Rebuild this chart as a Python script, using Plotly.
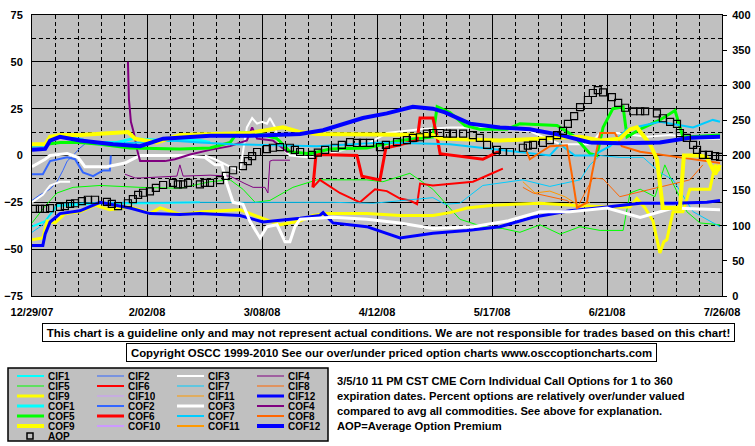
import pandas as pd
import plotly.graph_objects as go

BASE = pd.Timestamp("2007-12-29")

# ---------------- axis ticks ----------------
x_ticks = ["2007-12-29", "2008-02-02", "2008-03-08", "2008-04-12", "2008-05-17", "2008-06-21", "2008-07-26"]
x_ticklabels = ["12/29/07", "2/02/08", "3/08/08", "4/12/08", "5/17/08", "6/21/08", "7/26/08"]
y_left_ticks = [-75, -50, -25, 0, 25, 50, 75]
y_right_ticks = [0, 50, 100, 150, 200, 250, 300, 350, 400]

# ---------------- data (days after 12/29/07, percent over/under valued) ----------------
cif1_d = [0, 4, 7.6, 20.7, 35.9, 51.1]
cif1_v = [-38, -35, -27, -25.5, -25.5, -25]

cif2_d = [0, 2.4, 5.5, 7.6, 9.4, 10.7, 12.5, 14.6, 16.7, 18.3]
cif2_v = [-24, -21, -18, -14, -8, -3, 0, 4, 7, 8]

cif3_d = [0, 3.3, 5.5, 8.5, 11.6, None,
          52.6, 55.7, 60.3, 63.3, 65.4, 67, 68.5, 70, 71.5, 72.4, 74, 75.5, 78.5, 84.6, 90.7,
          96.8, 102.9, 108, 118.1, 127.2, 136.3, 145.5, 151.5, 160.7, 169.8, 172.9, 178, 187.2,
          194.2, 203.3, 209.4]
cif3_v = [-25, -21, -16, -14, -14, None,
          0, -2, -6, -8, 15, 20, 17, 18, 17, 20, 15, 5, 0, -1, 1,
          4, 7, 12, 14, 15, 15, 14, 13, 6, 6, 12, 12, 10,
          11, 9, 9]

cif4_d = [28.3, 31.4, 32.9, 39.9, 44.1, 45, 46, 54.2, 60.3, 64.8, 67.3, 70.9, 71.8, 72.4, 73.3, 78.5]
cif4_v = [-10, -12, -12, -11.5, -11, -5, -11, -10.5, -11, -15, -17, -17, -20, -3, -2.5, -2.5]

cif5_d = [0, 4, 7.6, 12.5, 20.7, 32.9, 45, 54.2, 60.3, 64.2, 67.9, 72.4, 79.4, 86.7, 101.9, 106.8,
          115, 122, 130.2, 137.2, 143.3, 148.5, 154.6, 160.7, 166.8, 172.9, 179.9, 182, 185.1,
          189.6, 192.6, 195.1, 199.3, 203.3, 209.4]
cif5_v = [-36, -27, -20, -17, -16, -17, -17.5, -14, -13, -18, -25, -24, -17, -13, -13, -14,
          -9.5, -18, -34, -38, -39, -41, -37, -42, -38, -40, -40, -20, -18,
          -22, -5, -15, -30, -36, -37]

cif6_d = [85.5, 87.6, 93.7, 99.8, 104.4, 108, 112, 115, 117.2, 118.1, 122, 128.1, 134.2, 139.4, 143.3]
cif6_v = [-17, -13, -20, -25, -18, -19, -23, -24, -26, -15, -16, -15, -14, -10, -7]

cif7_d = [0, 3.3, 7.6, 19.8, 54.2, 91.6, 103.8, 122, 125.7, 130.2, 137.2, 149.4, 157.6, 166.8,
          169.8, 172.9, 178.9, 186, 191.1, 195.1, 201.2, 209.4]
cif7_v = [-41, -37, -26, -25, -25, -25, -25.5, -22.5, -26, -25.5, -16, -13, -16.5, -13,
          -5, 0, -1, -1, -9, -13, -30, -38]

cif8_d = [149.4, 152.5, 162.8, 165.9, 170.7, 173.8, 178.9, 191.1, 195.1, 200.2, 204.2]
cif8_v = [-17, -20, -24, -28, -12, -12.5, -22, -17, -15, -13, -5]

cif9_d = [0, 3.3, 4.6, 7, 10, 14.6, 19.2, 23.7, 29.8, 32.9, 35.9, 39, 45, 52, 63.3, 69.4, 75.5,
          81.6, 85.5, 89.8, 101.9, 112, 122, 127.2, 132.4, 140.3, 154.6, 164.6, 175, 182, 184.1,
          186.6, 189, 191.1, 192.3, 193.2, 195.1, 198.1, 200.2, 206.3, 207.9, 209.4]
cif9_v = [-45, -44, -35, -36, -31, -30, -26.5, -29, -27.5, -29, -31, -28, -31.5, -30, -29, -33, -37,
          -35, -32, -31, -31, -32, -32, -30.5, -28, -26.5, -25.5, -26.5, -27.5, -27.5, -23,
          -28, -35, -52, -46, -45, -30, -30, -18, -18, -5, -8]

cif10_d = []
cif10_v = []

cif11_d = [149.4, 153.1, 157.6, 162.2, 166.8, 169.8]
cif11_v = [-14, -20, -19, -22, -27, -25]

cif12_d = [0, 3.3, 4, 5.5, 8.5, 14.6, 20.7, 29.8, 35.9, 45, 51.1, 63.3, 70.3, 81.6, 87.6, 88.6,
           91.6, 101.9, 112, 122, 132.4, 142.4, 152.5, 163.7, 175, 185.1, 195.1, 205.4, 209.4]
cif12_v = [-48, -48, -42, -35.5, -31, -29.5, -25, -28, -31, -31.5, -31, -32, -35.5, -33.5, -32, -30.5,
           -36, -38, -44, -41.5, -40, -38, -33, -29.5, -27.5, -25.5, -25.5, -25, -24]

cof1_d = [0, 4, 5.5, 9.4, 15.5, 25.9, 30.7, 39.9, 51.1, 54.2]
cof1_v = [5, 6, 10, 11, 7, 7, 9, 8, 8, 7]

cof2_d = [0, 3.3, 5.5, 10.7, 13.1, 15.5, 18.6, 21.6, 23.7, 24]
cof2_v = [-10, -10, -3, -1, -2, -9, -11, -8, -8, 0]

cof3_d = [0, 4, 5.5, 10.7, 14, 16.1, 22.8, 28.3, 32.9, 45, 52.6, 55.7, 57.8, 59.3, 61.2, 64.2,
          66.3, 69.4, 71.5, 74.6, 77, 78.5, 80, 81.6, 91.6, 101.9, 112, 122, 134.2, 144.6,
          154.6, 163.7, 175, 185.1, 195.1, 209.4]
cof3_v = [-6, -2, 0, 1, -1, -6, -6, -4, 0, 0, -1, -5, -5, -15, -25, -26,
          -35, -44, -38, -37, -46, -46, -38, -34, -33, -34, -36, -39, -38, -35,
          -30, -30, -28, -33, -28, -29]

cof4_d = [29.2, 29.5, 30.1, 31, 32, 32.9, 40.5, 43.5, 48.1, 54.2, 60.3, 65.4, 67, 68.5, 73.3, 77.6, 81.6]
cof4_v = [50, 30, 18, 12, 3, -3, -3, -2, 0.5, 3, 5, 8, 15, 9, 8, 2, 1.5]

cof5_d = [0, 8.5, 14.6, 20.7, 29.8, 45, 54.2, 60.3, 62.4, 68.5, 74.6, 78.5, 84.6, 90.7, 101.9,
          112, 122, 123.3, 127.2, 131.8, 136.3, 144.6, 148.5, 159.8, 165.2, 169.8, 171.9,
          173.8, 176.8, 179.9, 181.1, 185.1, 191.1, 195.7, 198.1, 200.2, 209.4]
cof5_v = [5, 7, 7, 6, 4, 3.5, 4, 7, 12, 12, 9, 2, 1, 3.5, 4,
          8, 10, 26, 23, 16, 14, 14, 17, 16, 10, 1, 0,
          15, 25, 26, 10, 14, 19, 24, 10, 10, 11]

cof6_d = [85.5, 86.4, 87.6, 98.9, 100.4, 105.9, 107.7, 117.2, 118.1, 122, 123.3, 124.2, 137.2, 141.5, 142.4]
cof6_v = [-17, 0, 0.5, 0, -11, -13, 4, 8, 20, 20, 10, 1, -2, 2, 2.5]

cof7_d = [0, 4, 5.5, 8.5, 14.6, 20.7, 32.9, 42, 51.1, 61.2, 86.7, 106.8, 127.2, 137.2, 150.6,
          157.6, 160.7, 165.2, 170.7, 175.9, 181.1, 191.1, 201.2, 207.2, 209.4]
cof7_v = [5, 5, 9, 10, 9, 6, 7, 8, 7, 6, 5, 7, 6, 4, 1,
          0, 6, 0, 0, 5, 14, 18, 15, 19, 18]

cof8_d = [150.6, 151.5, 157.6, 162.8, 164.3, 165.9, 168.9, 170.4, 172.9, 177.4, 179.5, 185.1, 197.2, 209.4]
cof8_v = [2, -2, 5, 5.5, -10, -28, -25, -10, 12, 12, 5, 2, -1, -4]

cof9_d = [0, 4, 5.5, 8.5, 14.6, 24.7, 29.2, 31.4, 35.9, 38, 45, 54.2, 66.3, 76.4, 81.6, 86.7,
          101.9, 122, 124.2, 142.4, 154.6, 166.8, 172.9, 178.9, 182, 184.1, 188.1, 190.2, 192,
          197.2, 198.4, 203.3, 205.4, 207.9, 209.4]
cof9_v = [6, 6, 10, 11, 11, 12, 12.5, 9, 8, 7, 11, 11.5, 12, 15, 12.5, 11.5,
          11.5, 11, 9, 8, 9, 10, 8, 9, 14, 15, 6, -2, -28,
          -28, 0, 0, -1, -10, -5]

cof10_d = []
cof10_v = []

cof11_d = []
cof11_v = []

cof12_d = [0, 4, 5.5, 8.5, 14.6, 20.7, 24.7, 32.9, 39.9, 54.2, 66.3, 81.6, 88.6, 100.7, 108,
           115.9, 122, 125.7, 133.3, 142.4, 151.5, 160.7, 169.8, 178.9, 191.1, 200.2, 209.4]
cof12_v = [3, 3.5, 8, 10, 8, 6.5, 6, 5, 9, 10.5, 10.5, 11.5, 13.5, 20, 22.5,
           26, 25, 23, 17, 15, 14, 11, 7, 6.5, 7, 9.5, 10]

# Average Option Premium (right axis)
aop_d = [0.9, 2.4, 4.0, 5.5, 8.5, 10.0, 11.6, 13.1, 15.2, 17.0, 19.2, 22.8, 24.3, 26.2, 29.2,
         30.7, 32.3, 33.8, 35.9, 37.7, 39.9, 42.9, 44.4, 46.0, 47.5, 51.1, 52.6, 54.2, 57.2,
         59.0, 61.2, 64.2, 65.7, 67.0, 68.5, 71.5, 73.3, 75.5, 78.5, 80.0, 81.6, 85.2, 87.0,
         89.2, 92.2, 94.3, 96.8, 98.9, 100.7, 102.9, 105.9, 107.7, 111.1, 114.1, 115.9, 118.1,
         120.2, 122.0, 124.2, 126.3, 128.1, 131.2, 134.2, 136.3, 138.5, 141.5, 143.3, 145.5,
         149.4, 150.9, 152.5, 155.5, 157.6, 159.8, 161.6, 163.1, 165.0, 166.8, 169.2, 170.7,
         172.2, 173.8, 176.5, 178.4, 180.5, 183.0, 185.1, 186.6, 190.2, 192.0, 194.2, 196.3,
         197.2, 199.3, 201.2, 202.4, 204.2, 206.0, 207.9, 209.4]
aop_v = [124, 124, 124, 125, 127, 128, 131, 132, 135, 137, 137, 134, 131, 128, 132,
         138, 144, 147, 149, 154, 158, 161, 159, 159, 161, 159, 161, 161, 165,
         171, 179, 185, 192, 199, 205, 209, 211, 212, 211, 208, 205, 201, 204,
         208, 211, 215, 219, 218, 218, 218, 212, 215, 219, 222, 225, 226,
         231, 232, 232, 231, 231, 231, 229, 225, 215, 208, 205, 205,
         211, 214, 215, 218, 222, 229, 235, 245, 256, 269, 279, 289,
         293, 290, 283, 275, 268, 263, 263, 263, 260, 253, 248, 245,
         232, 225, 215, 208, 201, 201, 199, 198]

series = [
    ("CIF1", cif1_d, cif1_v), ("CIF2", cif2_d, cif2_v), ("CIF3", cif3_d, cif3_v), ("CIF4", cif4_d, cif4_v),
    ("CIF5", cif5_d, cif5_v), ("CIF6", cif6_d, cif6_v), ("CIF7", cif7_d, cif7_v), ("CIF8", cif8_d, cif8_v),
    ("CIF9", cif9_d, cif9_v), ("CIF10", cif10_d, cif10_v), ("CIF11", cif11_d, cif11_v), ("CIF12", cif12_d, cif12_v),
    ("COF1", cof1_d, cof1_v), ("COF2", cof2_d, cof2_v), ("COF3", cof3_d, cof3_v), ("COF4", cof4_d, cof4_v),
    ("COF5", cof5_d, cof5_v), ("COF6", cof6_d, cof6_v), ("COF7", cof7_d, cof7_v), ("COF8", cof8_d, cof8_v),
    ("COF9", cof9_d, cof9_v), ("COF10", cof10_d, cof10_v), ("COF11", cof11_d, cof11_v), ("COF12", cof12_d, cof12_v),
]

# ---------------- styles ----------------
styles = {
    "CIF1": ("#00FFFF", 2), "CIF2": ("#3366FF", 1), "CIF3": ("#FFFFFF", 2), "CIF4": ("#800080", 1),
    "CIF5": ("#00FF00", 1), "CIF6": ("#FF0000", 2), "CIF7": ("#00CCFF", 1), "CIF8": ("#FF6600", 1),
    "CIF9": ("#FFFF00", 3), "CIF10": ("#CC99FF", 1), "CIF11": ("#FF9900", 1), "CIF12": ("#0000FF", 3),
    "COF1": ("#00FFFF", 3), "COF2": ("#3366FF", 2), "COF3": ("#FFFFFF", 3), "COF4": ("#800080", 2),
    "COF5": ("#00FF00", 3), "COF6": ("#FF0000", 3), "COF7": ("#00CCFF", 2), "COF8": ("#FF6600", 2),
    "COF9": ("#FFFF00", 4), "COF10": ("#CC99FF", 2), "COF11": ("#FF9900", 2), "COF12": ("#0000FF", 4),
}
FONT = "Liberation Sans, Arial, sans-serif"

W, H = 755, 446
L, R, T, B = 32, 722, 15, 296


def px(x):
    return (x - L) / (R - L)


def py(y):
    return (B - y) / (B - T)


def to_dates(days):
    return [None if d is None else BASE + pd.Timedelta(days=d) for d in days]


fig = go.Figure()
for name, d, v in series:
    color, width = styles[name]
    fig.add_trace(go.Scatter(x=to_dates(d), y=v, mode="lines", name=name,
                             line=dict(color=color, width=width), showlegend=False,
                             connectgaps=False, hoverinfo="skip"))

fig.add_trace(go.Scatter(x=to_dates(aop_d), y=aop_v, mode="markers", name="AOP", yaxis="y2",
                         marker=dict(symbol="square-open", size=7, color="black",
                                     line=dict(width=1.2, color="black")),
                         showlegend=False, hoverinfo="skip"))

tickfont = dict(family=FONT, size=11, color="black", weight="bold")
dash = "4px,3px"

fig.update_layout(
    width=W, height=H,
    margin=dict(l=L, r=W - R, t=T, b=H - B, autoexpand=False),
    paper_bgcolor="white", plot_bgcolor="#C0C0C0",
    showlegend=False,
    xaxis=dict(type="date", range=[BASE, BASE + pd.Timedelta(days=210)], automargin=False,
               tickvals=x_ticks, ticktext=x_ticklabels, tickfont=tickfont,
               showgrid=True, gridcolor="black", gridwidth=1, zeroline=False,
               showline=True, linecolor="black", linewidth=1, mirror=True, ticks="",
               ticklabelstandoff=6,
               minor=dict(dtick=7 * 86400000, tick0="2007-12-29", showgrid=True,
                          gridcolor="black", griddash=dash, gridwidth=1)),
    yaxis=dict(range=[-75, 75], tickvals=y_left_ticks, tickfont=tickfont, automargin=False,
               showgrid=True, gridcolor="black", gridwidth=1, zeroline=False,
               showline=True, linecolor="black", linewidth=1, mirror=True, ticks="",
               ticklabelstandoff=6,
               minor=dict(dtick=12.5, tick0=0, showgrid=True, gridcolor="black",
                          griddash=dash, gridwidth=1)),
    yaxis2=dict(range=[0, 400], tickvals=y_right_ticks, tickfont=tickfont, automargin=False,
                overlaying="y", side="right", showgrid=False, zeroline=False,
                showline=True, linecolor="black", linewidth=1,
                ticks="outside", ticklen=4, tickcolor="black", tickwidth=1,
                ticklabelstandoff=3),
)

# ---------------- text boxes ----------------
ann = []
ann.append(dict(x=px((42 + 735) / 2), y=py(332.5), xref="paper", yref="paper",
                text="This chart is a guideline only and may not represent actual conditions. "
                     "We are not responsible for trades based on this chart!",
                showarrow=False, font=dict(family=FONT, size=11.5, color="black", weight="bold"),
                bgcolor="white", bordercolor="black",
                borderwidth=1, borderpad=1, width=735 - 42 - 4, height=15,
                xanchor="center", yanchor="middle"))
ann.append(dict(x=px((126 + 657) / 2), y=py(352.5), xref="paper", yref="paper",
                text="Copyright OSCC 1999-2010 See our over/under priced option charts www.osccoptioncharts.com",
                showarrow=False, font=dict(family=FONT, size=11.4, color="black", weight="bold"),
                bgcolor="white", bordercolor="black",
                borderwidth=1, borderpad=1, width=657 - 126 - 4, height=15,
                xanchor="center", yanchor="middle"))

note_lines = ["3/5/10 11 PM CST CME Corn Individual Call Options for 1 to 360",
              "expiration dates. Percent options are relatively over/under valued",
              "compared to avg all commodities. See above for explanation.",
              "AOP=Average Option Premium"]
for i, line in enumerate(note_lines):
    ann.append(dict(x=px(335), y=py(381 + 15 * i), xref="paper", yref="paper", text=line,
                    showarrow=False, font=dict(family=FONT, size=11.2, color="black", weight="bold"),
                    xanchor="left", yanchor="middle"))

# ---------------- manual legend ----------------
shapes = [dict(type="rect", xref="paper", yref="paper", x0=px(8), x1=px(328), y0=py(368), y1=py(441),
               fillcolor="#C0C0C0", line=dict(color="black", width=1.5), layer="above")]
leg_font = dict(family=FONT, size=10, color="black", weight="bold")
for i, (name, _, _) in enumerate(series):
    r, c = divmod(i, 4)
    yy = 376 + 10 * r
    x0 = 17 + 80 * c
    color, width = styles[name]
    shapes.append(dict(type="line", xref="paper", yref="paper", x0=px(x0), x1=px(x0 + 27),
                       y0=py(yy), y1=py(yy), line=dict(color=color, width=width), layer="above"))
    ann.append(dict(x=px(x0 + 30), y=py(yy), xref="paper", yref="paper", text=name,
                    showarrow=False, font=leg_font, xanchor="left", yanchor="middle",
                    borderpad=0, height=10))
shapes.append(dict(type="rect", xref="paper", yref="paper", x0=px(27), x1=px(33), y0=py(433), y1=py(439),
                   line=dict(color="black", width=1.5), fillcolor="rgba(0,0,0,0)", layer="above"))
ann.append(dict(x=px(47), y=py(436), xref="paper", yref="paper", text="AOP",
                showarrow=False, font=leg_font, xanchor="left", yanchor="middle",
                borderpad=0, height=10))

fig.update_layout(annotations=ann, shapes=shapes)
fig.write_html("out.html", config={"displayModeBar": False},
               post_script="document.body.style.margin='0px';")
